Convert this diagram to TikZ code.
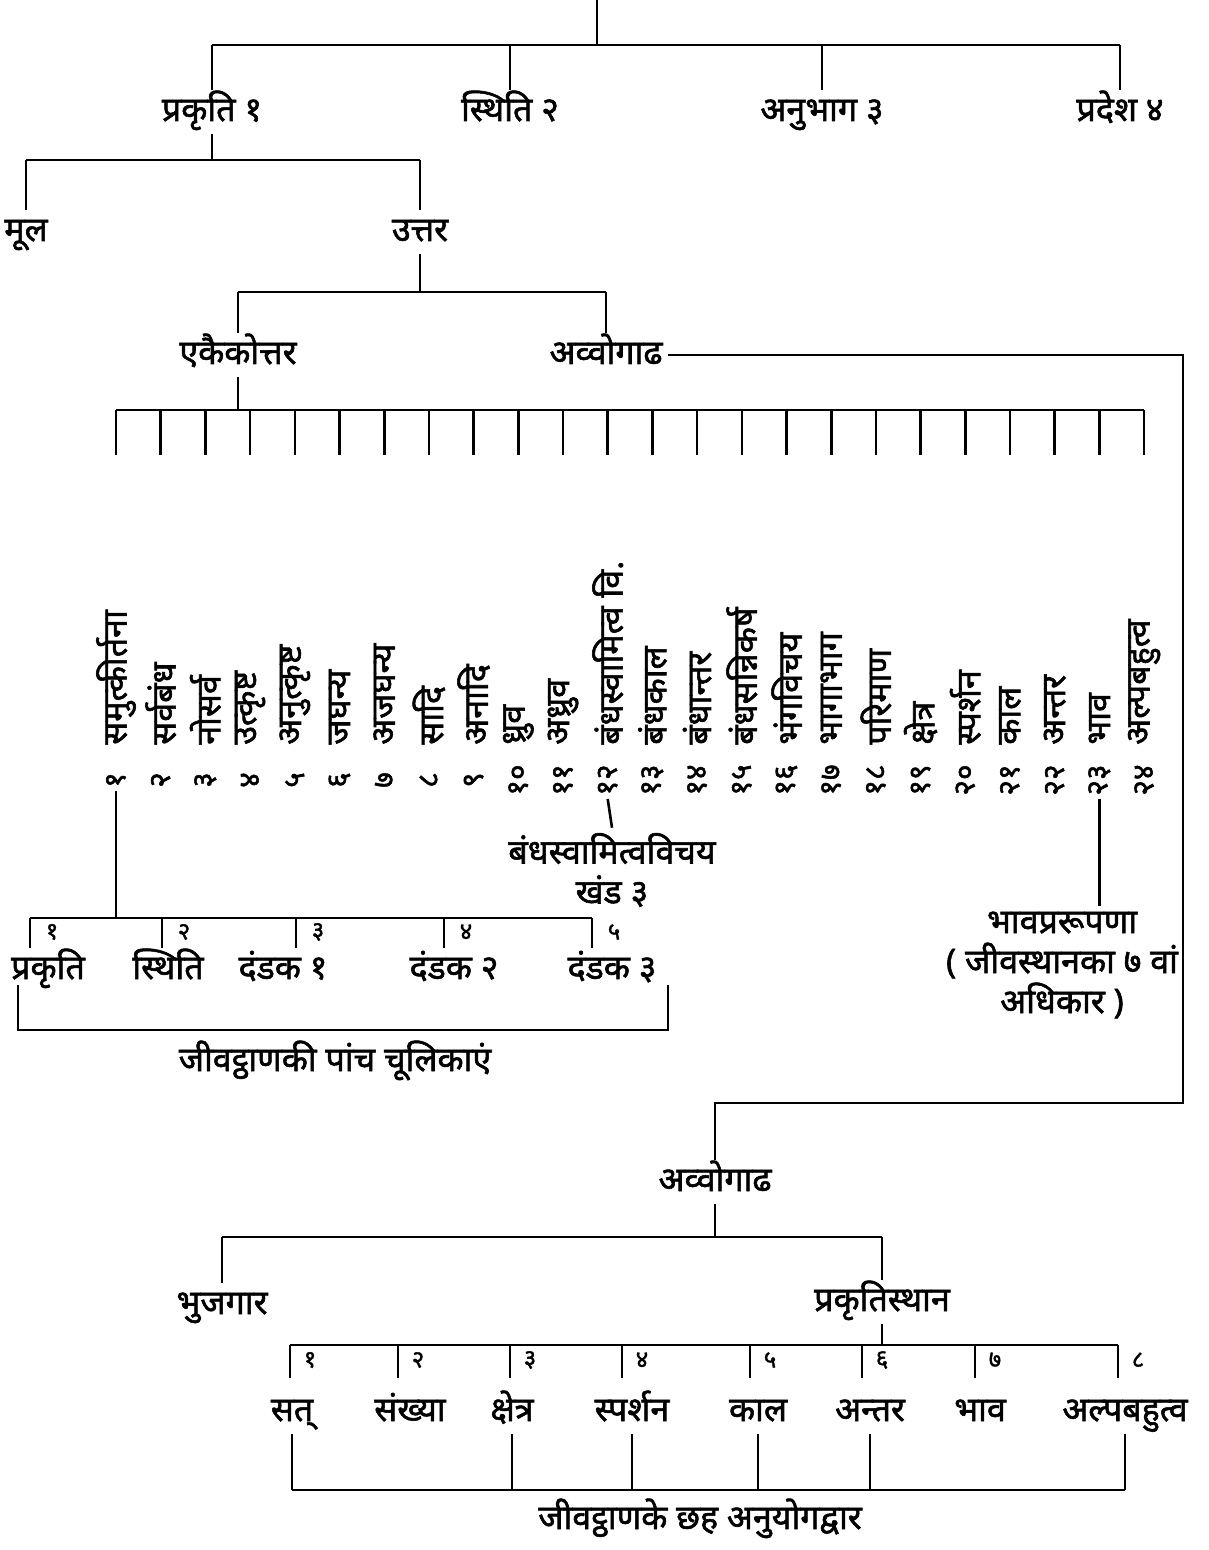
\documentclass[tikz,border=0pt]{standalone}
\usepackage{fontspec}
\newfontfamily\dev[Script=Devanagari,FakeBold=1.6]{Noto Sans}

\begin{document}
\begin{tikzpicture}[x=0.5pt,y=-0.5pt,line width=1.3pt,
  mlbl/.style={font=\dev\fontsize{17}{20}\selectfont,inner sep=2pt},
  lbl/.style={mlbl,text height=13pt,text depth=4pt},
  vlbl/.style={font=\dev\fontsize{17}{19}\selectfont,rotate=90,anchor=west,inner sep=1pt},
  num/.style={font=\dev\fontsize{12}{14}\selectfont,inner sep=1pt}]
\useasboundingbox (0,0) rectangle (1208,1550);

% bandha: four kinds
\coordinate (top) at (597,0);
\coordinate (j0) at (597,45);
\node[lbl] (pra) at (212,112) {प्रकृति १};
\node[lbl] (sth) at (510,112) {स्थिति २};
\node[lbl] (anu) at (822,112) {अनुभाग ३};
\node[lbl] (pde) at (1120,112) {प्रदेश ४};
\draw (top) -- (j0);
\draw (pra.north |- j0) -- (pde.north |- j0);
\foreach \n in {pra,sth,anu,pde} \draw (\n.north |- j0) -- (\n.north);

% prakriti
\coordinate (j1) at (212,160);
\node[lbl] (mul) at (26,232) {मूल};
\node[lbl] (utt) at (420,232) {उत्तर};
\draw (pra.south) -- (j1);
\draw (mul.north |- j1) -- (utt.north |- j1);
\foreach \n in {mul,utt} \draw (\n.north |- j1) -- (\n.north);

% uttar
\coordinate (j2) at (420,292);
\node[lbl] (eka) at (238,355) {एकैकोत्तर};
\node[lbl] (avv) at (606,355) {अव्वोगाढ};
\draw (utt.south) -- (j2);
\draw (eka.north |- j2) -- (avv.north |- j2);
\foreach \n in {eka,avv} \draw (\n.north |- j2) -- (\n.north);

% 24 anuyogadvara
\coordinate (j3) at (238,410);
\draw (eka.south) -- (j3);
\foreach \t/\d [count=\i] in {समुत्कीर्तना/१, सर्वबंध/२, नोसर्व/३, उत्कृष्ट/४,
    अनुत्कृष्ट/५, जघन्य/६, अजघन्य/७, सादि/८, अनादि/९, ध्रुव/१०, अध्रुव/११,
    बंधस्वामित्व वि./१२, बंधकाल/१३, बंधान्तर/१४, बंधसन्निकर्ष/१५, भंगविचय/१६,
    भागाभाग/१७, परिमाण/१८, क्षेत्र/१९, स्पर्शन/२०, काल/२१, अन्तर/२२, भाव/२३,
    अल्पबहुत्व/२४} {
  \coordinate (d\i) at ({116+44.7*(\i-1)},455);
  \node[vlbl] (v\i) at ({116+44.7*(\i-1)},748) {\t};
  \node[rotate=90,inner sep=1pt,font=\dev\fontsize{15}{17}\selectfont] (n\i) at ({116+44.7*(\i-1)},780) {\d};
  \draw (d\i |- j3) -- (d\i);
}
\draw (d1 |- j3) -- (d24 |- j3);

% five chulikas
\coordinate (j4) at (116,918);
\draw (n1.west) -- (j4);
\foreach \x/\d/\nx/\t [count=\i] in {30/१/48/प्रकृति, 162/२/168/स्थिति,
    296/३/283/दंडक १, 444/४/454/दंडक २, 592/५/612/दंडक ३} {
  \coordinate (k\i) at (\x,948);
  \node[num] (cn\i) at (\x+22,932) {\d};
  \node[lbl] (ch\i) at (\nx,970) {\t};
  \draw (k\i |- j4) -- (k\i);
}
\draw (k1 |- j4) -- (k5 |- j4);
\coordinate (l1) at (18,985);
\coordinate (l2) at (668,985);
\coordinate (lb) at (18,1030);
\draw (l1) -- (lb) -| (l2);
\node[lbl] (chl) at (335,1062) {जीवट्ठाणकी पांच चूलिकाएं};

% khand 3 and bhavaprarupana
\node[mlbl,align=center] (bsv) at (612,870) {बंधस्वामित्वविचय\\खंड ३};
\draw (n12.west) -- (bsv.north);
\node[mlbl,align=center] (bhp) at (1062,965) {भावप्ररूपणा\\( जीवस्थानका ७ वां\\अधिकार )};
\draw (n23.west) -- (n23.west |- bhp.north);

% avvogadh again
\node[lbl] (av2) at (715,1182) {अव्वोगाढ};
\coordinate (rc) at (1183,1103);
\draw (avv.east) -| (rc) -| (av2.north);
\coordinate (j5) at (715,1237);
\node[lbl] (bhu) at (222,1305) {भुजगार};
\node[lbl] (prs) at (882,1302) {प्रकृतिस्थान};
\draw (av2.south) -- (j5);
\draw (bhu.north |- j5) -- (prs.north |- j5);
\foreach \n in {bhu,prs} \draw (\n.north |- j5) -- (\n.north);

% six anuyogadvara of jivatthana
\coordinate (j6) at (882,1345);
\draw (prs.south) -- (j6);
\foreach \x/\d/\nx/\t [count=\i] in {290/१/292/सत्, 398/२/410/संख्या, 510/३/512/क्षेत्र,
    622/४/632/स्पर्शन, 750/५/758/काल, 862/६/870/अन्तर, 975/७/980/भाव, 1118/८/1125/अल्पबहुत्व} {
  \coordinate (m\i) at (\x,1378);
  \node[num] (an\i) at (\x+20,1360) {\d};
  \node[lbl] (a\i) at (\nx,1412) {\t};
  \draw (m\i |- j6) -- (m\i);
}
\draw (m1 |- j6) -- (m8 |- j6);
\coordinate (jb) at (0,1490);
\foreach \n in {a1,a3,a4,a5,a6,a8} \draw (\n.south) -- (\n.south |- jb);
\draw (a1.south |- jb) -- (a8.south |- jb);
\node[lbl] (anl) at (700,1520) {जीवट्ठाणके छह अनुयोगद्वार};
\end{tikzpicture}
\end{document}
